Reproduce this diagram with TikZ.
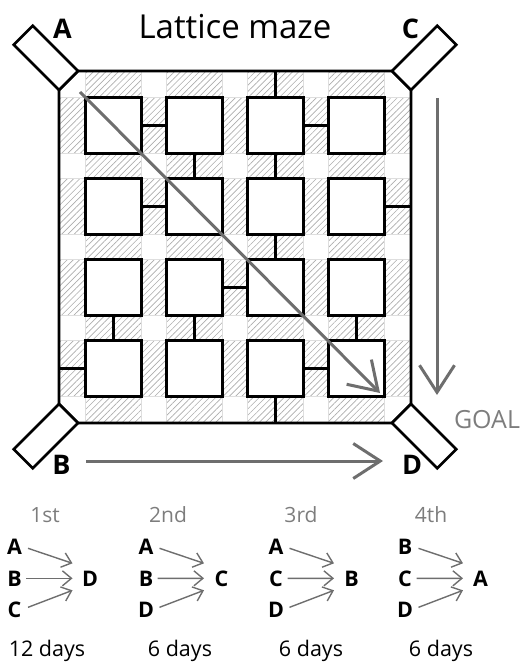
\documentclass[tikz,border=0pt]{standalone}
\usepackage{fontspec}
\setmainfont{Open Sans}
\usetikzlibrary{arrows.meta,patterns.meta,calc}
\definecolor{ag}{RGB}{110,110,110}
\definecolor{tg}{RGB}{125,125,125}
\definecolor{hg}{RGB}{172,172,172}
\definecolor{gl}{RGB}{222,222,222}
\begin{document}
\begin{tikzpicture}[x=1pt,y=-1pt,
  wall/.style={line width=2.6pt,draw=black,line join=miter},
  box/.style={draw=black,line width=2.6pt,fill=white,minimum width=56pt,minimum height=56pt,inner sep=0pt},
  conn/.style={line width=2.4pt,draw=black},
  hatch/.style={pattern={Lines[angle=45,distance=4.4pt,line width=0.65pt]},pattern color=hg},
  gridl/.style={draw=gl,line width=0.7pt},
  bigarrow/.style={draw=ag,line width=3pt,-{Straight Barb[length=27pt,width=35pt]}},
  smallarrow/.style={draw=ag,line width=1.4pt,-{Straight Barb[length=9pt,width=15pt]}},
  biglbl/.style={font=\fontsize{27}{30}\selectfont\bfseries,inner sep=0pt,anchor=base},
  smalllbl/.style={font=\fontsize{21.5}{24}\selectfont\bfseries,inner sep=0pt,anchor=base},
  ordlbl/.style={font=\fontsize{21}{24}\selectfont,text=tg,inner sep=0pt,anchor=base},
  dayslbl/.style={font=\fontsize{21.5}{24}\selectfont,inner sep=0pt,anchor=base}]
\useasboundingbox (0,0) rectangle (523,663);
\def\X{{59,85.5,141.5,166.5,222.5,247.5,303.5,328.5,384.5,411}}
\def\Y{{71,97.5,153.5,178.5,234.5,259.5,315.5,340.5,396.5,423}}
% hatched corridors
\foreach \i in {0,...,8}{
  \foreach \j in {0,...,8}{
    \pgfmathtruncatemacro\odd{mod(\i+\j,2)}
    \ifnum\odd=1
      \pgfmathsetmacro\xa{\X[\i]}
      \pgfmathsetmacro\xb{\X[\i+1]}
      \pgfmathsetmacro\ya{\Y[\j]}
      \pgfmathsetmacro\yb{\Y[\j+1]}
      \fill[hatch] (\xa,\ya) rectangle (\xb,\yb);
    \fi
  }
}
% light grid lines
\foreach \k in {1,...,8}{
  \pgfmathsetmacro\xk{\X[\k]}
  \pgfmathsetmacro\yk{\Y[\k]}
  \draw[gridl] (\xk,71) -- (\xk,423);
  \draw[gridl] (59,\yk) -- (411,\yk);
}
% outer wall corners
\coordinate (tl1) at (59,90);
\coordinate (tl2) at (78,71);
\coordinate (tr1) at (392,71);
\coordinate (tr2) at (411,90);
\coordinate (br1) at (411,404);
\coordinate (br2) at (392,423);
\coordinate (bl1) at (78,423);
\coordinate (bl2) at (59,404);
% boxes
\foreach \r/\yy in {1/125.5,2/206.5,3/287.5,4/368.5}{
  \foreach \c/\xx in {1/113.5,2/194.5,3/275.5,4/356.5}{
    \node[box] (b\r\c) at (\xx,\yy) {};
  }
}
% connectors
\draw[conn] (b11.east) -- (b12.west);
\draw[conn] (b13.east) -- (b14.west);
\draw[conn] (b13.north) -- (b13.north |- tl2);
\draw[conn] (b12.south) -- (b22.north);
\draw[conn] (b13.south) -- (b23.north);
\draw[conn] (b21.east) -- (b22.west);
\draw[conn] (b24.east) -- (b24.east -| tr2);
\draw[conn] (b23.south) -- (b33.north);
\draw[conn] (b32.east) -- (b33.west);
\draw[conn] (b31.south) -- (b41.north);
\draw[conn] (b32.south) -- (b42.north);
\draw[conn] (b34.south) -- (b44.north);
\draw[conn] (b41.west) -- (b41.west -| tl1);
\draw[conn] (b43.east) -- (b44.west);
\draw[conn] (b43.south) -- (b43.south |- bl1);
% outer wall
\draw[wall] (tl1) -- (tl2) -- (tr1) -- (tr2) -- (br1) -- (br2) -- (bl1) -- (bl2) -- cycle;
% entrances
\draw[wall,fill=white] (tl1) -- (tl2) -- ++(-45.25,-45.25) -- ($(tl1)+(-45.25,-45.25)$) -- cycle;
\draw[wall,fill=white] (tr1) -- (tr2) -- ++(45.25,-45.25) -- ($(tr1)+(45.25,-45.25)$) -- cycle;
\draw[wall,fill=white] (br1) -- (br2) -- ++(45.25,45.25) -- ($(br1)+(45.25,45.25)$) -- cycle;
\draw[wall,fill=white] (bl1) -- (bl2) -- ++(-45.25,45.25) -- ($(bl1)+(-45.25,45.25)$) -- cycle;
% title and corner labels
\node[font=\fontsize{33}{36}\selectfont,inner sep=0pt,anchor=base] (title) at (235,38.5) {Lattice maze};
\node[biglbl] (la) at (62.5,39) {A};
\node[biglbl] (lc) at (410.5,39) {C};
\node[biglbl] (lb) at (61.5,474) {B};
\node[biglbl] (ld) at (412,474) {D};
\node[font=\fontsize{25}{28}\selectfont,text=tg,inner sep=0pt,anchor=base] (goal) at (487,428) {GOAL};
% big arrows
\coordinate (d0) at (80,92);
\coordinate (d1) at (380,393);
\coordinate (v0) at (437,98);
\coordinate (v1) at (437,395);
\coordinate (h0) at (86,461);
\coordinate (h1) at (383,461);
\draw[bigarrow] (d0) -- (d1);
\draw[bigarrow] (v0) -- (v1);
\draw[bigarrow] (h0) -- (h1);
% schedule groups
\foreach \n/\lx/\ord/\ox/\la/\lb/\lc/\rr/\days/\dx in {
  1/14.5/1st/45/A/B/C/D/12 days/47,
  2/146/2nd/168/A/B/D/C/6 days/180,
  3/276/3rd/301/A/C/D/B/6 days/311,
  4/405/4th/431/B/C/D/A/6 days/441}{
  \node[ordlbl] (o\n) at (\ox,522) {\ord};
  \node[smalllbl] (g\n a) at (\lx,554) {\la};
  \node[smalllbl] (g\n b) at (\lx,586) {\lb};
  \node[smalllbl] (g\n c) at (\lx,617.5) {\lc};
  \node[smalllbl] (g\n r) at (\lx+75.5,586) {\rr};
  \draw[smallarrow] ($(g\n a.center)+(13.5,2)$) -- ($(g\n r.center)+(-17.5,-15)$);
  \draw[smallarrow] ($(g\n b.center)+(11.5,0)$) -- ($(g\n r.center)+(-17.5,0)$);
  \draw[smallarrow] ($(g\n c.center)+(13.5,-2.5)$) -- ($(g\n r.center)+(-17.5,12)$);
  \node[dayslbl] (t\n) at (\dx,656.5) {\days};
}
\end{tikzpicture}
\end{document}
